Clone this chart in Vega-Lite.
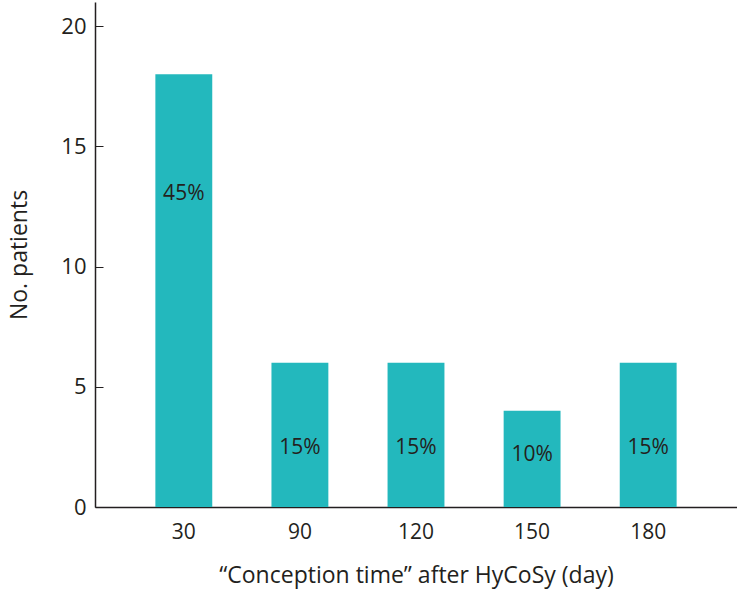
{
  "$schema": "https://vega.github.io/schema/vega-lite/v6.json",
  "autosize": "none",
  "width": 642,
  "height": 505,
  "padding": {"left": 95, "top": 2, "right": 0, "bottom": 90},
  "background": "white",
  "config": {"view": {"stroke": null}, "font": "Open Sans"},
  "data": {"values": [
    {"day": "30", "patients": 18, "label": "45%", "labelPos": 13},
    {"day": "90", "patients": 6, "label": "15%", "labelPos": 2.45},
    {"day": "120", "patients": 6, "label": "15%", "labelPos": 2.45},
    {"day": "150", "patients": 4, "label": "10%", "labelPos": 2.15},
    {"day": "180", "patients": 6, "label": "15%", "labelPos": 2.45}
  ]},
  "encoding": {
    "x": {
      "field": "day", "type": "ordinal", "sort": null,
      "scale": {"paddingInner": 0.51, "paddingOuter": 0.52},
      "axis": {
        "title": "“Conception time” after HyCoSy (day)",
        "labelAngle": 0, "ticks": false, "domainColor": "#231F20", "domainWidth": 1.5,
        "labelFont": "Open Sans", "labelFontSize": 21, "labelColor": "#231F20", "labelPadding": 14,
        "titleFont": "Open Sans", "titleFontSize": 23, "titleFontWeight": "normal", "titleColor": "#231F20", "titlePadding": 22
      }
    }
  },
  "layer": [
    {
      "mark": {"type": "bar", "color": "#23B8BD"},
      "encoding": {
        "y": {
          "field": "patients", "type": "quantitative",
          "scale": {"domain": [0, 21], "nice": false},
          "axis": {
            "title": "No. patients", "values": [0, 5, 10, 15, 20], "grid": false,
            "tickSize": -8, "tickColor": "#231F20", "tickWidth": 1,
            "domainColor": "#231F20", "domainWidth": 1.5,
            "labelFont": "Open Sans", "labelFontSize": 22, "labelColor": "#231F20", "labelPadding": 17,
            "titleFont": "Open Sans", "titleFontSize": 23, "titleFontWeight": "normal", "titleColor": "#231F20", "titlePadding": 29
          }
        }
      }
    },
    {
      "mark": {"type": "text", "font": "Open Sans", "fontSize": 21, "color": "#231F20", "baseline": "middle"},
      "encoding": {
        "y": {"field": "labelPos", "type": "quantitative"},
        "text": {"field": "label"}
      }
    }
  ]
}
